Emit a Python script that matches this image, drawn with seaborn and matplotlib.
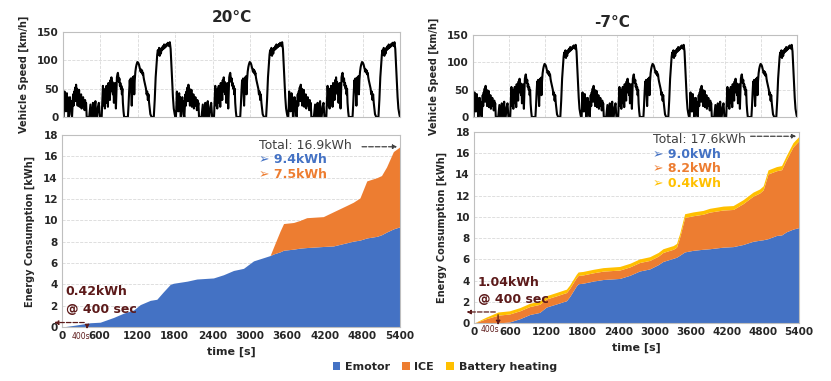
import numpy as np
import matplotlib
matplotlib.use("Agg")
import matplotlib.pyplot as plt
from matplotlib.patches import Patch
import seaborn as sns

# ---- one drive cycle (1800 s) as (time s, speed km/h), repeated three times ----
CYCLE = [
    # low phase
    (0, 0), (10, 0), (18, 20), (25, 45), (32, 15), (40, 38), (48, 10), (55, 30),
    (62, 42), (70, 12), (78, 35), (85, 0), (95, 0), (105, 20), (112, 35), (120, 15),
    (128, 28), (135, 5), (145, 0), (155, 25), (162, 40), (170, 20), (178, 45),
    (186, 30), (194, 52), (202, 28), (210, 57), (218, 35), (226, 50), (234, 20),
    (242, 45), (250, 30), (258, 48), (266, 18), (274, 35), (282, 25), (290, 40),
    (298, 15), (306, 30), (314, 22), (322, 35), (330, 20), (338, 28), (346, 12),
    (354, 30), (362, 18), (370, 25), (380, 0), (395, 0), (420, 0), (440, 22),
    (455, 0), (470, 0), (480, 25), (490, 0), (500, 0), (510, 20), (520, 28),
    (530, 0), (545, 0), (560, 18), (575, 25), (590, 0),
    # medium phase
    (620, 0), (630, 30), (640, 55), (648, 40), (656, 20), (664, 45), (672, 15),
    (680, 50), (688, 30), (696, 55), (704, 25), (712, 48), (720, 18), (728, 60),
    (736, 35), (744, 55), (752, 30), (760, 65), (768, 45), (776, 70), (784, 50),
    (792, 62), (800, 40), (808, 55), (816, 25), (824, 50), (832, 60), (840, 45),
    (848, 15), (856, 40), (864, 70), (872, 75), (880, 78), (888, 70), (896, 62),
    (904, 68), (912, 55), (920, 60), (928, 50), (936, 55), (944, 40), (952, 50),
    (960, 25), (970, 10), (980, 0),
    # high phase
    (1040, 0), (1050, 20), (1060, 45), (1070, 65), (1078, 50), (1086, 68),
    (1094, 40), (1102, 20), (1110, 45), (1118, 70), (1126, 55), (1134, 72),
    (1142, 40), (1150, 65), (1160, 80), (1170, 88), (1180, 93), (1192, 97),
    (1204, 96), (1216, 93), (1228, 88), (1236, 84), (1244, 80), (1252, 84),
    (1260, 78), (1268, 82), (1276, 75), (1284, 78), (1292, 70), (1300, 65),
    (1310, 60), (1320, 55), (1330, 50), (1340, 40), (1350, 45), (1360, 30),
    (1370, 40), (1380, 25), (1390, 15), (1400, 5), (1420, 0), (1440, 0),
    # extra high phase
    (1455, 0), (1470, 30), (1485, 70), (1500, 95), (1510, 110), (1520, 118),
    (1530, 110), (1540, 122), (1550, 108), (1560, 118), (1570, 112), (1580, 122),
    (1590, 118), (1600, 125), (1610, 120), (1620, 128), (1630, 122), (1640, 126),
    (1650, 124), (1660, 129), (1670, 126), (1680, 131), (1690, 128), (1700, 125),
    (1712, 132), (1725, 120), (1738, 90), (1750, 60), (1762, 35), (1775, 15),
    (1790, 5), (1800, 0),
]
N_CYCLES = 3
CYCLE_LEN = 1800

# ---- cumulative energy, 20 degC ----
T20 = [0, 240, 450, 610, 825, 985, 1145, 1250, 1410, 1515, 1620, 1730, 1780, 2000,
       2155, 2420, 2580, 2740, 2900, 3060, 3220, 3325, 3380, 3485, 3540, 3700, 3805,
       3910, 4175, 4335, 4550, 4655, 4760, 4870, 5030, 5105, 5185, 5295, 5400]
EMOTOR20 = [0, 0.2, 0.4, 0.45, 0.9, 1.3, 1.6, 2.1, 2.5, 2.6, 3.3, 4.0, 4.1, 4.3,
            4.5, 4.6, 4.9, 5.3, 5.5, 6.2, 6.5, 6.7, 6.85, 7.05, 7.2, 7.3, 7.4,
            7.45, 7.55, 7.6, 7.9, 8.05, 8.15, 8.35, 8.5, 8.65, 8.9, 9.2, 9.4]
ICE20 = [0, 0, 0, 0, 0, 0, 0, 0, 0, 0, 0, 0, 0, 0,
         0, 0, 0, 0, 0, 0, 0, 0, 0.65, 1.95, 2.5, 2.5, 2.6,
         2.8, 2.8, 3.2, 3.5, 3.65, 3.95, 5.35, 5.5, 5.55, 6.1, 7.25, 7.5]

# ---- cumulative energy, -7 degC ----
T7 = [0, 200, 400, 590, 760, 925, 1090, 1200, 1370, 1480, 1535, 1590, 1645, 1700,
      1730, 1810, 1980, 2145, 2420, 2590, 2750, 2920, 3060, 3140, 3310, 3365, 3420,
      3500, 3640, 3805, 3915, 4140, 4305, 4470, 4635, 4745, 4805, 4885, 5025, 5110,
      5190, 5300, 5400]
EMOTOR7 = [0, 0, 0, 0.1, 0.4, 0.8, 1.0, 1.5, 1.8, 2.0, 2.1, 2.5, 3.0, 3.5,
           3.7, 3.75, 3.95, 4.1, 4.2, 4.5, 4.9, 5.1, 5.5, 5.8, 6.1, 6.2, 6.4,
           6.7, 6.85, 6.95, 7.0, 7.15, 7.2, 7.4, 7.7, 7.8, 7.85, 7.95, 8.25, 8.3,
           8.6, 8.85, 9.0]
ICE7 = [0, 0.4, 0.74, 0.75, 0.75, 0.75, 0.76, 0.76, 0.76, 0.77, 0.77, 0.77, 0.78, 0.78,
        0.78, 0.78, 0.78, 0.79, 0.79, 0.79, 0.8, 0.8, 0.8, 0.85, 0.85, 0.95, 1.75,
        3.24, 3.26, 3.3, 3.45, 3.5, 3.5, 3.85, 4.25, 4.45, 4.7, 6.1, 6.1, 6.15,
        6.8, 7.75, 8.2]
HEAT7 = [0, 0.15, 0.3, 0.3, 0.3, 0.31, 0.31, 0.31, 0.32, 0.32, 0.32, 0.32, 0.32, 0.32,
         0.33, 0.33, 0.33, 0.33, 0.34, 0.34, 0.34, 0.35, 0.35, 0.35, 0.35, 0.35, 0.35,
         0.36, 0.36, 0.36, 0.36, 0.37, 0.37, 0.37, 0.38, 0.38, 0.38, 0.38, 0.39, 0.39,
         0.39, 0.4, 0.4]

SERIES = ["Emotor", "ICE", "Battery heating"]
COLORS = ["#4472C4", "#ED7D31", "#FFC000"]
MAROON = "#5C1A1A"
XTICKS = list(range(0, 5401, 600))

sns.set_theme(style="white")
plt.rcParams["font.family"] = ["DejaVu Sans"]


def speed_frame():
    t, v = [], []
    for k in range(N_CYCLES):
        pts = CYCLE if k == 0 else CYCLE[1:]
        t += [x + k * CYCLE_LEN for x, _ in pts]
        v += [y for _, y in pts]
    return np.array(t), np.array(v)


def style_axes(ax):
    for s in ax.spines.values():
        s.set_color("#BFBFBF")
        s.set_linewidth(0.8)
    ax.tick_params(axis="both", labelsize=7.5, length=0, pad=3)
    for lab in ax.get_xticklabels() + ax.get_yticklabels():
        lab.set_fontweight("bold")


def plot_speed(ax):
    t, v = speed_frame()
    sns.lineplot(x=t, y=v, ax=ax, color="black", lw=1.5, estimator=None, sort=False)
    ax.set_xlim(0, 5400)
    ax.set_ylim(0, 150)
    ax.set_xticks(XTICKS)
    ax.set_xticklabels([])
    ax.set_yticks([0, 50, 100, 150])
    ax.set_axisbelow(True)
    ax.grid(True, ls="--", lw=0.6, color="#D9D9D9")
    ax.set_ylabel("Vehicle Speed [km/h]", fontsize=7, fontweight="bold", labelpad=6)
    style_axes(ax)


def plot_energy(ax, t, layers, colors):
    ax.stackplot(t, *layers, colors=colors, lw=0)
    ax.set_xlim(0, 5400)
    ax.set_ylim(0, 18)
    ax.set_xticks(XTICKS)
    ax.set_yticks(range(0, 19, 2))
    ax.set_axisbelow(True)
    ax.grid(True, axis="y", ls="--", lw=0.6, color="#D9D9D9")
    ax.set_ylabel("Energy Consumption [kWh]", fontsize=7, fontweight="bold", labelpad=6)
    ax.set_xlabel("time [s]", fontsize=8, fontweight="bold", labelpad=4)
    style_axes(ax)


def mark_400(ax, val, label, ytxt, lab_xy):
    arr = dict(arrowstyle="-|>", ls="--", lw=0.9, color=MAROON, mutation_scale=6)
    ax.annotate("", xy=(-170, val), xytext=(400, val), arrowprops=arr,
                annotation_clip=False)
    ax.annotate("", xy=(400, -0.45), xytext=(400, val), arrowprops=arr,
                annotation_clip=False)
    ax.text(lab_xy[0], lab_xy[1], "400s", fontsize=5.5, color=MAROON, ha="center",
            va="center", clip_on=False)
    ax.text(60, ytxt, label + "\n@ 400 sec", fontsize=9, fontweight="bold",
            color=MAROON, ha="left", va="center", linespacing=1.45)


def totals(ax, total, x0, y0, dy, x_arrow, parts):
    ax.text(x0, y0, f"Total: {total}kWh", fontsize=9, color="#404040",
            ha="left", va="center")
    ax.annotate("", xy=(5400, total), xytext=(x_arrow, total),
                arrowprops=dict(arrowstyle="-|>", ls="--", lw=0.9, color="#404040",
                                mutation_scale=6), annotation_clip=False)
    for k, (val, col) in enumerate(parts):
        ax.text(x0, y0 - (k + 1) * dy, f"\u27a2 {val}kWh", fontsize=9,
                fontweight="bold", color=col, ha="left", va="center")


fig = plt.figure(figsize=(8.31, 3.81), dpi=100)
ax_s20 = fig.add_axes([0.0758, 0.6929, 0.4055, 0.2231])
ax_s7 = fig.add_axes([0.5692, 0.6929, 0.3899, 0.2152])
ax_e20 = fig.add_axes([0.0746, 0.1417, 0.4067, 0.5039])
ax_e7 = fig.add_axes([0.5704, 0.1522, 0.3911, 0.5013])

plot_speed(ax_s20)
plot_speed(ax_s7)
plot_energy(ax_e20, T20, [EMOTOR20, ICE20], COLORS[:2])
plot_energy(ax_e7, T7, [EMOTOR7, ICE7, HEAT7], COLORS)

mark_400(ax_e20, 0.42, "0.42kWh", 2.5, (300, -0.85))
mark_400(ax_e7, 1.04, "1.04kWh", 3.0, (270, -0.6))

totals(ax_e20, 16.9, 3140, 17.05, 1.38, 4750,
       [(EMOTOR20[-1], COLORS[0]), (ICE20[-1], COLORS[1])])
totals(ax_e7, 17.6, 2970, 17.3, 1.38, 4550,
       [(EMOTOR7[-1], COLORS[0]), (ICE7[-1], COLORS[1]), (HEAT7[-1], COLORS[2])])

fig.text(0.279, 0.955, "20°C", fontsize=11, fontweight="bold", ha="center", va="center")
fig.text(0.737, 0.94, "-7°C", fontsize=11, fontweight="bold", ha="center", va="center")

handles = [Patch(facecolor=c, edgecolor="none") for c in COLORS]
fig.legend(handles, SERIES, loc="center", bbox_to_anchor=(0.535, 0.038), ncol=3,
           frameon=False, handlelength=0.7, handleheight=0.7, handletextpad=0.4,
           columnspacing=1.1, prop={"size": 8, "weight": "bold"})

fig.savefig("out.png", dpi=100)
